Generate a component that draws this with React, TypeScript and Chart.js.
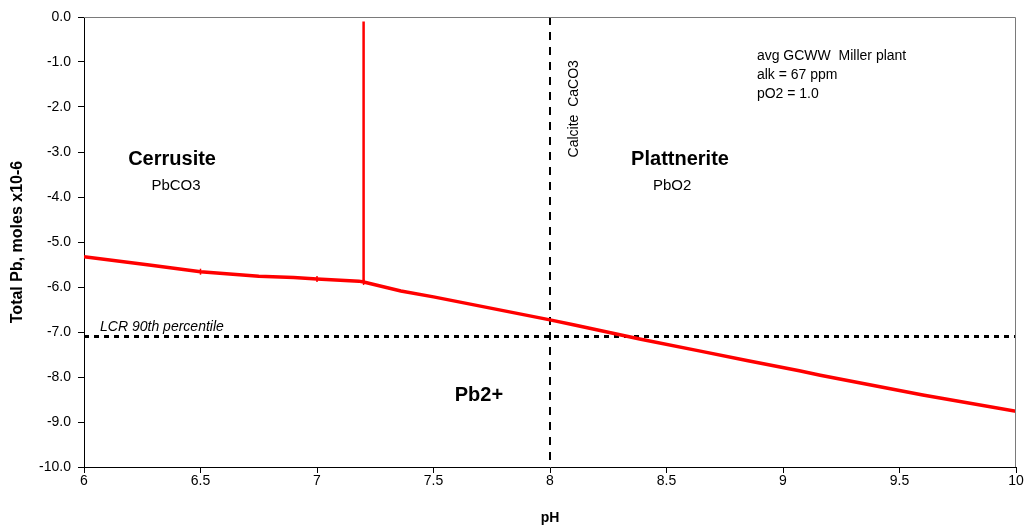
import React, { useEffect, useRef } from "react";
import { Chart, registerables } from "chart.js";

Chart.register(...registerables);

// ---- data ----
const phValues = [6, 6.28, 6.5, 6.75, 6.9, 7, 7.18, 7.2, 7.36, 7.5, 8, 8.1, 8.39, 8.64, 8.85, 9.07, 9.16, 9.6, 10];
const totalPb = [-5.33, -5.51, -5.66, -5.76, -5.79, -5.82, -5.87, -5.89, -6.09, -6.22, -6.73, -6.84, -7.16, -7.42, -7.64, -7.86, -7.96, -8.4, -8.76];
const markedPh = [6.5, 7, 7.2];
const boundaryPh = [7.2, 7.2];
const boundaryPb = [-0.1, -5.89];
const calcitePh = [8, 8];
const calcitePb = [0, -10];
const lcrPh = [6, 10];
const lcrPb = [-7.1, -7.1];
const xMin = 6, xMax = 10, xStep = 0.5;
const yMin = -10, yMax = 0, yStep = 1;

const FONT = "'Liberation Sans', Arial, Helvetica, sans-serif";

const toPoints = (xs: number[], ys: number[]) => xs.map((x, i) => ({ x, y: ys[i] }));

const textPlugin = {
  id: "textAnnotations",
  afterDraw(chart: any) {
    const { ctx, scales, chartArea } = chart;
    const xs = scales.x, ys = scales.y;
    ctx.save();
    // plot-area border (top/right)
    ctx.strokeStyle = "#7a7a7a";
    ctx.lineWidth = 1;
    ctx.beginPath();
    ctx.moveTo(chartArea.left, chartArea.top + 0.5);
    ctx.lineTo(chartArea.right - 0.5, chartArea.top + 0.5);
    ctx.lineTo(chartArea.right - 0.5, chartArea.bottom);
    ctx.stroke();

    ctx.fillStyle = "#000";
    ctx.textBaseline = "middle";
    const put = (t: string, ph: number, pb: number, font: string, align: CanvasTextAlign) => {
      ctx.font = font;
      ctx.textAlign = align;
      ctx.fillText(t, xs.getPixelForValue(ph), ys.getPixelForValue(pb));
    };
    put("Cerrusite", 6.378, -3.16, `bold 20px ${FONT}`, "center");
    put("PbCO3", 6.395, -3.76, `15px ${FONT}`, "center");
    put("Plattnerite", 8.558, -3.16, `bold 20px ${FONT}`, "center");
    put("PbO2", 8.524, -3.76, `15px ${FONT}`, "center");
    put("Pb2+", 7.695, -8.42, `bold 20px ${FONT}`, "center");
    put("avg GCWW  Miller plant", 8.888, -0.87, `14px ${FONT}`, "left");
    put("alk = 67 ppm", 8.888, -1.3, `14px ${FONT}`, "left");
    put("pO2 = 1.0", 8.888, -1.72, `14px ${FONT}`, "left");
    put("LCR 90th percentile", 6.069, -6.9, `italic 14px ${FONT}`, "left");

    // rotated calcite label
    ctx.save();
    ctx.translate(xs.getPixelForValue(8.103), ys.getPixelForValue(-2.04));
    ctx.rotate(-Math.PI / 2);
    ctx.font = `14px ${FONT}`;
    ctx.textAlign = "center";
    ctx.fillText("Calcite  CaCO3", 0, 0);
    ctx.restore();

    // axis titles
    ctx.font = `bold 14px ${FONT}`;
    ctx.textAlign = "center";
    ctx.fillText("pH", (chartArea.left + chartArea.right) / 2, 518);
    ctx.save();
    ctx.translate(18, (chartArea.top + chartArea.bottom) / 2);
    ctx.rotate(-Math.PI / 2);
    ctx.font = `bold 16px ${FONT}`;
    ctx.fillText("Total Pb, moles x10-6", 0, 0);
    ctx.restore();
    ctx.restore();
  },
};

export default function App() {
  const ref = useRef<HTMLCanvasElement>(null);
  useEffect(() => {
    if (!ref.current) return;
    const chart = new Chart(ref.current, {
      type: "scatter",
      data: {
        datasets: [
          {
            data: toPoints(phValues, totalPb),
            showLine: true,
            borderColor: "#ff0000",
            backgroundColor: "#ff0000",
            borderWidth: 3.5,
            pointStyle: "line",
            rotation: 90,
            pointBorderWidth: 1.5,
            pointRadius: phValues.map((p) => (markedPh.includes(p) ? 3 : 0)),
          },
          {
            data: toPoints(boundaryPh, boundaryPb),
            showLine: true,
            borderColor: "#ff0000",
            borderWidth: 2.5,
            pointRadius: 0,
          },
          {
            data: toPoints(calcitePh, calcitePb),
            showLine: true,
            borderColor: "#000",
            borderWidth: 2,
            borderDash: [8, 7],
            pointRadius: 0,
          },
          {
            data: toPoints(lcrPh, lcrPb),
            showLine: true,
            borderColor: "#000",
            borderWidth: 3,
            borderDash: [5, 5],
            pointRadius: 0,
          },
        ],
      },
      options: {
        animation: false,
        responsive: false,
        layout: { padding: { top: 17, right: 12, left: 0, bottom: 0 } },
        plugins: { legend: { display: false }, tooltip: { enabled: false } },
        scales: {
          x: {
            type: "linear",
            min: xMin,
            max: xMax,
            afterFit: (s: any) => { s.height = 62; },
            ticks: {
              stepSize: xStep,
              color: "#000",
              padding: 0,
              font: { family: FONT, size: 14 },
              callback: (v: any) => String(v),
            },
            grid: { drawOnChartArea: false, drawTicks: true, tickLength: 6, color: "#000" },
            border: { color: "#000", width: 1 },
          },
          y: {
            type: "linear",
            min: yMin,
            max: yMax,
            afterFit: (s: any) => { s.width = 84; },
            ticks: {
              stepSize: yStep,
              color: "#000",
              padding: 7,
              font: { family: FONT, size: 14 },
              callback: (v: any) => Number(v).toFixed(1),
            },
            grid: { drawOnChartArea: false, drawTicks: true, tickLength: 6, color: "#000" },
            border: { color: "#000", width: 1 },
          },
        },
      },
      plugins: [textPlugin],
    } as any);
    return () => chart.destroy();
  }, []);
  return (
    <div style={{ position: "fixed", left: 0, top: 0, width: 1028, height: 529, background: "#fff" }}>
      <canvas ref={ref} width={1028} height={529} style={{ display: "block" }} />
    </div>
  );
}
